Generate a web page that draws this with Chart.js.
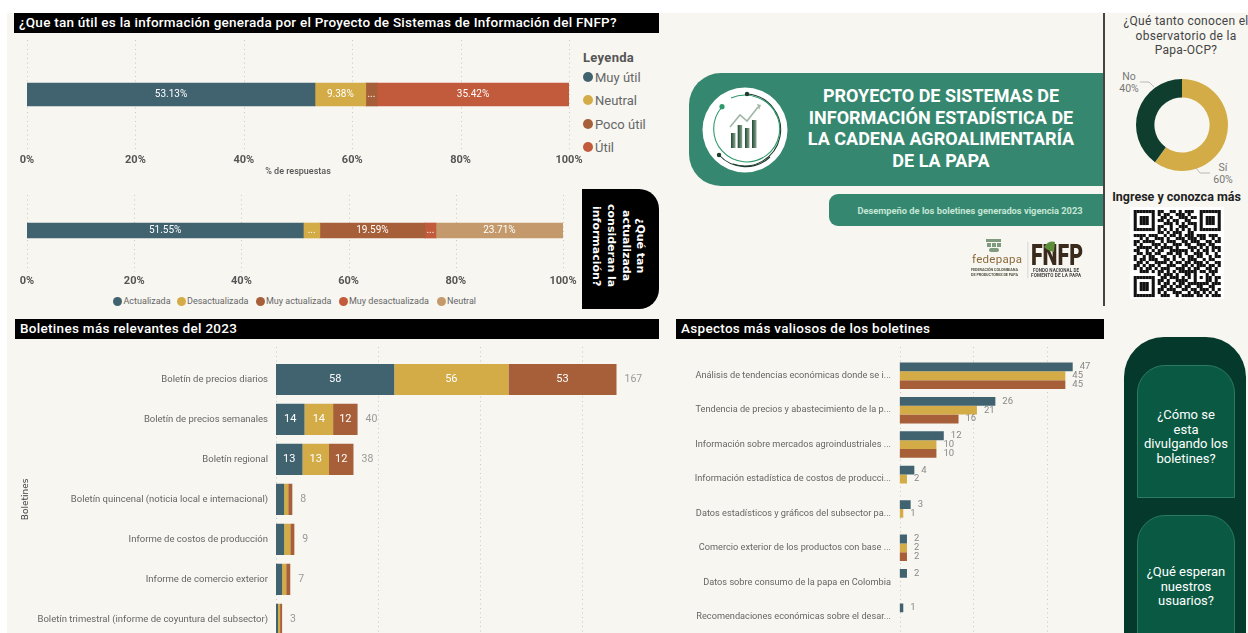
<!DOCTYPE html>
<html lang="es"><head><meta charset="utf-8">
<title>Proyecto de Sistemas de Información</title>
<script src="https://cdn.jsdelivr.net/npm/chart.js@4/dist/chart.umd.min.js"></script>
<style>
html,body{margin:0;padding:0;background:#fff;width:1248px;height:633px;overflow:hidden}
#page{position:absolute;left:0;top:0;width:1248px;height:633px;overflow:hidden;background:#fff;font-family:Roboto,sans-serif}
.abs{position:absolute}
canvas{position:absolute}
.t{position:absolute;white-space:nowrap;line-height:1}
.bar{position:absolute;background:#000;color:#fff;height:20px;line-height:18px;font-size:13.5px;font-weight:500;box-sizing:border-box;padding-left:5px;white-space:nowrap}
</style></head><body><div id="page"></div>
<script>
// ---------- DATA ----------
const utilCategories = ['Utilidad'];
const utilSeries = ['Muy útil','Neutral','Poco útil','Útil'];
const utilValues = [53.13,9.38,2.08,35.42];
const updateCategories = ['Actualización'];
const updateSeries = ['Actualizada','Desactualizada','Muy actualizada','Muy desactualizada','Neutral'];
const updateValues = [51.55,3.09,19.59,2.06,23.71];
const percentTicks = [0,20,40,60,80,100];
const bulletinNames = ['Boletín de precios diarios','Boletín de precios semanales','Boletín regional','Boletín quincenal (noticia local e internacional)','Informe de costos de producción','Informe de comercio exterior','Boletín trimestral (informe de coyuntura del subsector)'];
const bulletinA = [58,14,13,4,4,3,1];
const bulletinB = [56,14,13,2,3,2,1];
const bulletinC = [53,12,12,2,2,2,1];
const bulletinTotals = [167,40,38,8,9,7,3];
const aspectNames = ['Análisis de tendencias económicas donde se i...','Tendencia de precios y abastecimiento de la p...','Información sobre mercados agroindustriales ...','Información estadística de costos de producci...','Datos estadísticos y gráficos del subsector pa...','Comercio exterior de los productos con base ...','Datos sobre consumo de la papa en Colombia','Recomendaciones económicas sobre el desar...'];
const aspectA = [47,26,12,4,3,2,2,1];
const aspectB = [45,21,10,2,1,2,null,null];
const aspectC = [45,16,10,null,null,2,null,null];
const donutNames = ['Sí','No'];
const donutValues = [60,40];

// ---------- STYLE ----------
const TEAL='#41626f',GOLD='#d3ac47',BROWN='#a65f38',RED='#c25a3c',TAN='#c49a6c';
const GREEN='#35886f',DARK='#0f3d2e';
const page=document.getElementById('page');
const FF='Roboto';

function el(tag,css,html){const d=document.createElement(tag);d.style.cssText=css;if(html!=null)d.innerHTML=html;page.appendChild(d);return d;}
function rect(x,y,w,h,bg,extra){return el('div',`position:absolute;left:${x}px;top:${y}px;width:${w}px;height:${h}px;background:${bg};${extra||''}`);}
function text(x,y,s,css,align){
  const tx=align==='center'?'-50%':align==='right'?'-100%':'0';
  const d=el('div',`position:absolute;left:${x}px;top:${y}px;transform:translate(${tx},-50%);white-space:nowrap;line-height:1;${css||''}`,s);
  d.className='t';return d;
}

// Background
rect(7,13,1241,620,'#f7f6f1');

// Section bars
function bar(x,y,w,s,ls){const d=el('div',`left:${x}px;top:${y}px;width:${w}px;letter-spacing:${ls||0}px`,s);d.className='bar';}
bar(14,13,645,'¿Que tan útil es la información generada por el Proyecto de Sistemas de Información del FNFP?',0.25);
bar(15,319,644,'Boletines más relevantes del 2023',0.3);
bar(676,319,428,'Aspectos más valiosos de los boletines',0.3);

// Hero banners
rect(689,73,415,113,GREEN,'border-radius:32px 0 0 32px');
rect(829,194,275,32,GREEN,'border-radius:9px 0 0 9px');
['PROYECTO DE SISTEMAS DE','INFORMACIÓN ESTADÍSTICA DE','LA CADENA AGROALIMENTARÍA','DE LA PAPA'].forEach((s,i)=>
  text(941,[96,117.5,139,161][i],s,'color:#fff;font-weight:700;font-size:18px;'
  ,'center'));
text(970,211,'Desempeño de los boletines generados vigencia 2023','color:#c5e6d6;font-weight:700;font-size:9.3px','center');
rect(1102.5,13,2,293,'#444');

// Black vertical card
rect(582,189,77,120,'#000','border-radius:0 20px 20px 0');
el('div',`position:absolute;left:586px;top:186px;width:64px;height:120px;writing-mode:vertical-rl;text-align:center;color:#fff;font:700 11px/14.7px 'DejaVu Sans',sans-serif;display:flex;align-items:center;justify-content:center`,'<div>¿Qué tan<br>actualizada<br>consideran la<br>información?</div>');

// Right pills
rect(1124,337,122,320,'#04392b','border-radius:40px 40px 0 0');
rect(1137,365,98,133,'#0a5a43','border-radius:28px 28px 0 0;border:1px solid #2b7a62;box-sizing:border-box');
rect(1137,515,98,140,'#0a5a43','border-radius:28px 28px 0 0;border:1px solid #2b7a62;box-sizing:border-box');
['¿Cómo se','esta','divulgando los','boletines?'].forEach((s,i)=>text(1186,[414,429,443,458][i],s,'color:#fff;font-size:13px;font-weight:400','center'));
['¿Qué esperan','nuestros','usuarios?'].forEach((s,i)=>text(1186,[571,585.5,600][i],s,'color:#fff;font-size:13px;font-weight:400','center'));

// Donut captions
['¿Qué tanto conocen el','observatorio de la','Papa-OCP?'].forEach((s,i)=>text(1186,[21,35.5,50][i],s,'color:#444;font-size:12px;letter-spacing:.3px','center'));
text(1129,77,donutNames[1],'color:#777;font-size:10.5px','center');
text(1129,88.5,donutValues[1]+'%','color:#777;font-size:10.5px','center');
text(1223,168,donutNames[0],'color:#777;font-size:10.5px','center');
text(1223,179.5,donutValues[0]+'%','color:#777;font-size:10.5px','center');
text(1176.5,197,'Ingrese y conozca más','color:#222;font-weight:700;font-size:12.5px','center');

// Legends built from series names
text(583,57,'Leyenda','color:#555;font-weight:700;font-size:13px;letter-spacing:.3px');
[TEAL,GOLD,BROWN,RED].forEach((c,i)=>{
  const y=[77,100,124,147][i];
  rect(583,y-5,10,10,c,'border-radius:50%');
  text(595,y,utilSeries[i],'color:#666;font-size:13px');
});
[TEAL,GOLD,BROWN,RED,TAN].forEach((c,i)=>{
  const x=[117.5,181,260,343,441][i];
  rect(x-4.5,296.5,9,9,c,'border-radius:50%');
  text(x+6,301,updateSeries[i],'color:#666;font-size:9px');
});

// Axis-independent decorations (SVG)
const qr=["11111110110011010111001111111","10000010101100111010001000001","10111010011010011101101011101","10111010110101100110001011101","10111010001110101011101011101","10000010110010011100101000001","11111110101010101010101111111","00000000110101110011000000000","11110111001011010111011101110","00101001110100111011101100101","11011110010111001101110011011","10100011101001110110011101100","01111101011110100011101010111","11001010110011111101010110101","01101101100110110100111010010","10010110011001010011011001011","10110111001101001011100101100","01101001111010110110111010011","11010110100111001101011101101","10101101011100111010110011010","00111010110101011111101101110","00000000101110100110100010100","11111110011011101010101011011","10000010110100111100100011010","10111010101101011011111110111","10111010011010110110011001100","10111010110111001101101110101","10000010101001110010110101010","11111110011100101111011010111"];
let qrRects='';
qr.forEach((r,j)=>{[...r].forEach((c,i)=>{if(c==='1')qrRects+=`<rect x="${1133.7+i*3}" y="${210+j*3}" width="3.05" height="3.05"/>`;});});
el('div','position:absolute;left:0;top:0;pointer-events:none;z-index:5',`
<svg xmlns="http://www.w3.org/2000/svg" width="1248" height="633" style="display:block">
<defs><linearGradient id="bh" x1="0" y1="0" x2="1" y2="0"><stop offset="0" stop-color="#1f4a36"/><stop offset="1" stop-color="#8ea68f"/></linearGradient></defs>
<rect x="1130" y="207" width="94" height="92" fill="#fff"/>
<g fill="#111">${qrRects}</g>
<circle cx="745" cy="130" r="42.5" fill="#fff"/>
<path d="M747 94 A36 36 0 1 1 733 164" fill="none" stroke="#1e3b2e" stroke-width="1.1"/>
<path d="M722 107 A33 33 0 1 0 775 112" fill="none" stroke="#2e9a6c" stroke-width="1.1"/>
<path d="M731 98 A35 35 0 0 1 777 116" fill="none" stroke="#2e9a6c" stroke-width="1.1"/>
<path d="M719 155 A36 36 0 0 0 770 157" fill="none" stroke="#1e3b2e" stroke-width="1.1"/>
<circle cx="747" cy="94" r="2.2" fill="#1e3b2e"/><circle cx="722" cy="106.7" r="2.6" fill="#2e9a6c"/><circle cx="719" cy="155" r="2.2" fill="#1e3b2e"/>
<polyline points="730,127 740,115 747,121 758,107" fill="none" stroke="#a2b7a6" stroke-width="1.6"/><polygon points="757,104 761,105 759,110" fill="#a2b7a6"/>
<g fill="url(#bh)"><rect x="731" y="133" width="4.5" height="15"/><rect x="737.7" y="125" width="4.5" height="23"/><rect x="745" y="128" width="4.5" height="20"/><rect x="752" y="120" width="4.5" height="28"/></g>
<polyline points="1140,82 1149,82 1154,87" fill="none" stroke="#aaa" stroke-width=".8"/>
<polyline points="1196,168 1200,173 1210,173" fill="none" stroke="#aaa" stroke-width=".8"/>
<g fill="#7f9a7f"><rect x="986" y="239" width="15" height="3"/><rect x="987" y="243" width="4" height="4"/><rect x="992" y="243" width="4" height="4"/><rect x="997" y="243" width="4" height="4"/><rect x="989" y="248" width="10" height="4" rx="2"/></g>
<text x="972" y="263" font-family="Roboto" font-size="11.5" fill="#8b6a3c" textLength="50">fedepapa</text>
<text x="971" y="271" font-family="Roboto" font-size="3.8" font-weight="700" fill="#554" textLength="47">FEDERACIÓN COLOMBIANA</text>
<text x="971" y="276" font-family="Roboto" font-size="3.8" font-weight="700" fill="#554" textLength="47">DE PRODUCTORES DE PAPA</text>
<rect x="1027.5" y="242" width=".8" height="36" fill="#ccc"/>
<text x="1031" y="265" font-family="Roboto" font-size="30" font-weight="900" fill="#3a2a1c" textLength="52" lengthAdjust="spacingAndGlyphs">FNFP</text>
<path d="M1044 247 q5 -7 11 -5 l-1 10 q-6 -1 -10 -5z" fill="#5d8f3a"/>
<text x="1033" y="271.5" font-family="Roboto" font-size="4.6" font-weight="700" fill="#444" textLength="46">FONDO NACIONAL DE</text>
<text x="1031" y="277" font-family="Roboto" font-size="4.6" font-weight="700" fill="#444" textLength="50">FOMENTO DE LA PAPA</text>
</svg>`);

// ---------- CHARTS ----------
function addCanvas(b){const c=document.createElement('canvas');c.width=b.w;c.height=b.h;c.style.cssText=`left:${b.x}px;top:${b.y}px;width:${b.w}px;height:${b.h}px`;page.appendChild(c);return c;}

// dotted vertical grid from a chosen top y (relative to canvas), taken from the x scale's ticks
const dotGrid={id:'dotGrid',beforeDatasetsDraw(chart,args,opts){
  const s=chart.scales.x,ctx=chart.ctx,a=chart.chartArea;
  ctx.save();ctx.strokeStyle='#c9c9c4';ctx.lineWidth=1;ctx.setLineDash([1,3.5]);
  s.ticks.forEach(t=>{const x=Math.round(s.getPixelForValue(t.value))+.5;ctx.beginPath();ctx.moveTo(x,opts.top);ctx.lineTo(x,a.bottom);ctx.stroke();});
  ctx.restore();
}};
// value labels in / after bars
const valueLabels={id:'valueLabels',afterDatasetsDraw(chart,args,opts){
  const ctx=chart.ctx;ctx.save();ctx.textBaseline='middle';
  chart.data.datasets.forEach((ds,di)=>{
    chart.getDatasetMeta(di).data.forEach((bar,i)=>{
      const v=ds.data[i];if(v==null)return;
      const o=opts.format(v,bar);if(o==null)return;
      ctx.font=opts.font;ctx.fillStyle=opts.color;
      if(opts.mode==='end'){ctx.textAlign='left';ctx.fillStyle=opts.color;ctx.fillText(o,bar.x+opts.gap,bar.y);}
      else{ctx.textAlign='center';ctx.fillText(o,(bar.x+bar.base)/2,bar.y);}
    });
  });
  if(opts.totals){const s=chart.scales.x,y=chart.scales.y;ctx.fillStyle='#999';ctx.textAlign='left';ctx.font=opts.totalFont;
    opts.totals.forEach((t,i)=>ctx.fillText(String(t),s.getPixelForValue(t)+opts.gap,y.getPixelForValue(i)));}
  ctx.restore();
}};

function pctChart(box,pad,cats,names,vals,colors,thick,gridTop,xTitle,fitH,tickPad){
  return new Chart(addCanvas(box),{type:'bar',
   data:{labels:cats,datasets:names.map((n,i)=>({label:n,data:[vals[i]],backgroundColor:colors[i],barThickness:thick,borderWidth:0}))},
   options:{indexAxis:'y',responsive:false,animation:false,layout:{padding:pad},
    plugins:{legend:{display:false},tooltip:{enabled:false},dotGrid:{top:gridTop},
     valueLabels:{font:`400 10px ${FF}`,color:'#fff',format:v=>v<5?'...':v.toFixed(2)+'%'}},
    scales:{y:{display:false,stacked:true},
     x:{stacked:true,min:0,max:100,grid:{display:false,drawTicks:false},border:{display:false},
      afterFit(s){s.height=fitH;},
      ticks:{stepSize:20,autoSkip:false,maxRotation:0,padding:tickPad,color:'#555',font:{family:FF,size:11,weight:'700'},callback:v=>percentTicks.includes(v)?v+'%':''},
      title:xTitle?{display:true,text:xTitle,color:'#555',font:{family:FF,size:9,weight:'500'},padding:{top:2,bottom:0}}:{display:false}}}},
   plugins:[dotGrid,valueLabels]});
}
pctChart({x:0,y:30,w:620,h:147},{left:27,right:51,top:10,bottom:0},utilCategories,utilSeries,utilValues,[TEAL,GOLD,BROWN,RED],23,10,'% de respuestas',28,5);
pctChart({x:0,y:180,w:620,h:110},{left:27,right:57,top:9,bottom:0},updateCategories,updateSeries,updateValues,[TEAL,GOLD,BROWN,RED,TAN],15,15,null,18,3);

new Chart(addCanvas({x:16,y:340,w:644,h:313}),{type:'bar',
 data:{labels:bulletinNames,datasets:[
  {label:'A',data:bulletinA,backgroundColor:TEAL},{label:'B',data:bulletinB,backgroundColor:GOLD},{label:'C',data:bulletinC,backgroundColor:BROWN}]},
 options:{indexAxis:'y',responsive:false,animation:false,layout:{padding:{left:0,right:17,top:19.5,bottom:0}},
  datasets:{bar:{categoryPercentage:.78,barPercentage:1,borderWidth:0}},
  plugins:{legend:{display:false},tooltip:{enabled:false},dotGrid:{top:7},
   valueLabels:{font:`400 11px ${FF}`,color:'#fff',totals:bulletinTotals,totalFont:`400 10.5px ${FF}`,gap:8,format:v=>v>=10?String(v):null}},
  scales:{
   y:{stacked:true,grid:{display:false,drawTicks:false},border:{display:false},afterFit(s){s.width=260;},
    ticks:{padding:8,color:'#666',autoSkip:false,font:{family:FF,size:9.5}},
    title:{display:true,text:'Boletines',color:'#444',font:{family:'DejaVu Sans',size:9},padding:{top:4,bottom:0}}},
   x:{display:false,stacked:true,min:0,max:180,ticks:{stepSize:50,includeBounds:false}}}},
 plugins:[dotGrid,valueLabels]});

new Chart(addCanvas({x:672,y:340,w:432,h:308}),{type:'bar',
 data:{labels:aspectNames,datasets:[
  {label:'A',data:aspectA,backgroundColor:TEAL},{label:'B',data:aspectB,backgroundColor:GOLD},{label:'C',data:aspectC,backgroundColor:BROWN}]},
 options:{indexAxis:'y',responsive:false,animation:false,layout:{padding:{left:0,right:0,top:18.5,bottom:0}},
  datasets:{bar:{categoryPercentage:.77,barPercentage:1,borderWidth:0}},
  plugins:{legend:{display:false},tooltip:{enabled:false},dotGrid:{top:7},
   valueLabels:{mode:'end',font:`400 9.5px ${FF}`,color:'#888',gap:7,format:v=>String(v)}},
  scales:{
   y:{grid:{display:false,drawTicks:false},border:{display:false},afterFit(s){s.width=227.6;},
    ticks:{padding:8.6,color:'#666',autoSkip:false,font:{family:FF,size:9.2}}},
   x:{display:false,min:0,max:55.5,ticks:{stepSize:20,includeBounds:false}}}},
 plugins:[dotGrid,valueLabels]});

new Chart(addCanvas({x:1131.6,y:75,w:100,h:100}),{type:'doughnut',
 data:{labels:donutNames,datasets:[{data:donutValues,backgroundColor:[GOLD,DARK],borderWidth:0}]},
 options:{responsive:false,animation:false,cutout:'60%',rotation:0,layout:{padding:4},plugins:{legend:{display:false},tooltip:{enabled:false}}}});
</script></body></html>
